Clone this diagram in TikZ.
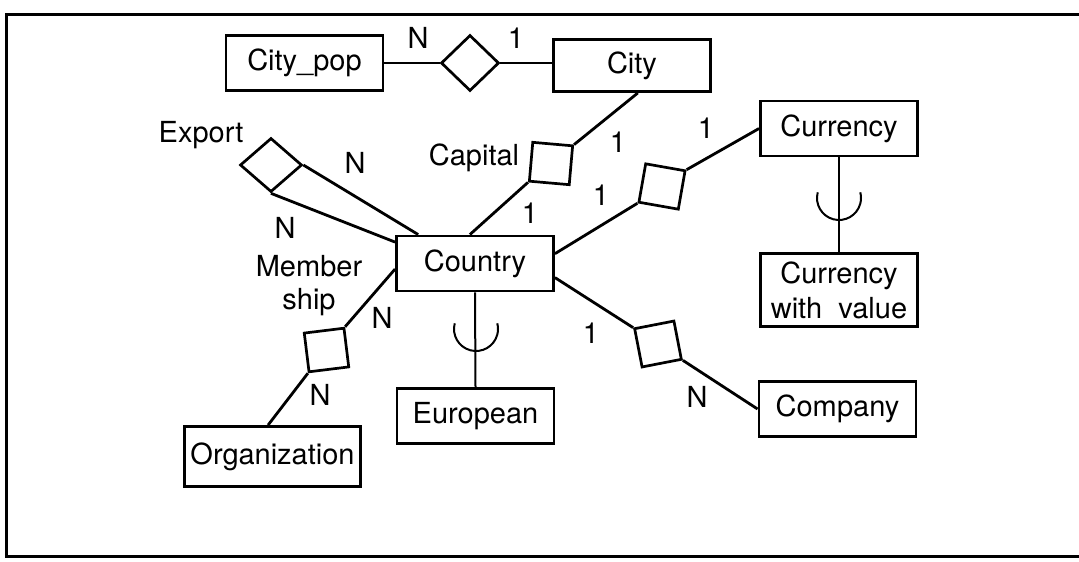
\documentclass[tikz,border=0pt]{standalone}
\usepackage{fontspec}
\setmainfont{TeX Gyre Heros}
\usetikzlibrary{shapes.geometric}

\begin{document}
\begin{tikzpicture}[
  x=1pt, y=-1pt,
  entity/.style={draw, line width=2.9pt, inner sep=0pt, minimum width=157pt,
                 minimum height=55pt, font=\fontsize{29}{35}\selectfont, align=center},
  relbox/.style={draw, line width=2.7pt, inner sep=0pt, minimum width=40pt, minimum height=39pt},
  reldia/.style={diamond, draw, line width=2.7pt, inner sep=0pt},
  card/.style={font=\fontsize{29}{34}\selectfont, inner sep=0pt, text height=20pt, text depth=0pt},
  lnk/.style={line width=2.8pt},
  subl/.style={line width=2pt}
]
% Outer frame (open on the right)
\useasboundingbox (0,0) rectangle (1079,562);
\draw[line width=3pt] (1079,14) -- (6,14) -- (6,556) -- (1079,556);

% Entity boxes
\node[entity] (CityPop) at (304.5,63) {City\_pop};
\node[entity, minimum height=52pt] (City) at (632,65.5) {City};
\node[entity] (Country) at (475,263.5) {Country};
\node[entity] (Currency) at (839,128.5) {Currency};
\node[entity, minimum height=73pt] (CurVal) at (839,290) {Currency\\with\ \ value};
\node[entity] (Company) at (837.5,409) {Company};
\node[entity] (European) at (475.5,416) {European};
\node[entity, minimum width=176pt, minimum height=60pt] (Org) at (272.5,456.5) {Organization};

% Relationship symbols
\node[reldia, minimum width=58pt, minimum height=56pt] (PopRel) at (470,63) {};
\node[reldia, minimum width=62pt, minimum height=54pt] (Export) at (271,165) {};
\node[relbox, rotate=-5] (Capital) at (551,163.5) {};
\node[relbox, rotate=-10] (CurRel) at (662,186.5) {};
\node[relbox, rotate=7] (Member) at (326.5,350) {};
\node[relbox, rotate=11] (CompRel) at (658,344) {};

% Connectors
\draw[lnk] (CityPop.east) -- (PopRel.west);
\draw[lnk] (PopRel.east) -- (PopRel.east -| City.west);
\draw[lnk] (City.-78) -- (Capital.north east);
\draw[lnk] (Capital.south west) -- (Country.100);
\draw[lnk] (Export.east) -- (Country.153);
\draw[lnk] (Export.south) -- (Country.165);
\draw[lnk] (Country.7) -- (CurRel.south west);
\draw[lnk] (CurRel.north east) -- (Currency.west);
\draw[lnk] (Country.184) -- (Member.north east);
\draw[lnk] (Member.south west) -- (Org.98);
\draw[lnk] (Country.-10) -- (CompRel.north west);
\draw[lnk] (CompRel.south east) -- (Company.west);

% Subclass links with cup symbols
\coordinate (EuCup) at (476,329);
\coordinate (CurCup) at (839,198);
\draw[subl] (Country.south) -- (European.north);
\draw[subl] (Currency.south) -- (CurVal.north);
\draw[subl] ([shift={(165:22pt)}]EuCup) arc[start angle=165, end angle=375, radius=22pt];
\draw[subl] ([shift={(165:22pt)}]CurCup) arc[start angle=165, end angle=375, radius=22pt];

% Names and cardinalities
\node[card] (nPop) at (418,38) {N};
\node[card] (oPop) at (516,38) {1};
\node[card] (lExport) at (201,132) {Export};
\node[card] (nExpA) at (355,163) {N};
\node[card] (nExpB) at (285,228) {N};
\node[card] (lCapital) at (474,155) {Capital};
\node[card] (oCapA) at (618,142) {1};
\node[card] (oCapB) at (530,213) {1};
\node[card] (oCurA) at (706,128) {1};
\node[card] (oCurB) at (601,195) {1};
\node[font=\fontsize{29}{33}\selectfont, align=center, inner sep=0pt] (lMember) at (309,286) {Member\\ship};
\node[card] (nMemA) at (382,318) {N};
\node[card] (nMemB) at (320,395) {N};
\node[card] (oComp) at (591,333) {1};
\node[card] (nComp) at (697,397) {N};
\end{tikzpicture}
\end{document}
